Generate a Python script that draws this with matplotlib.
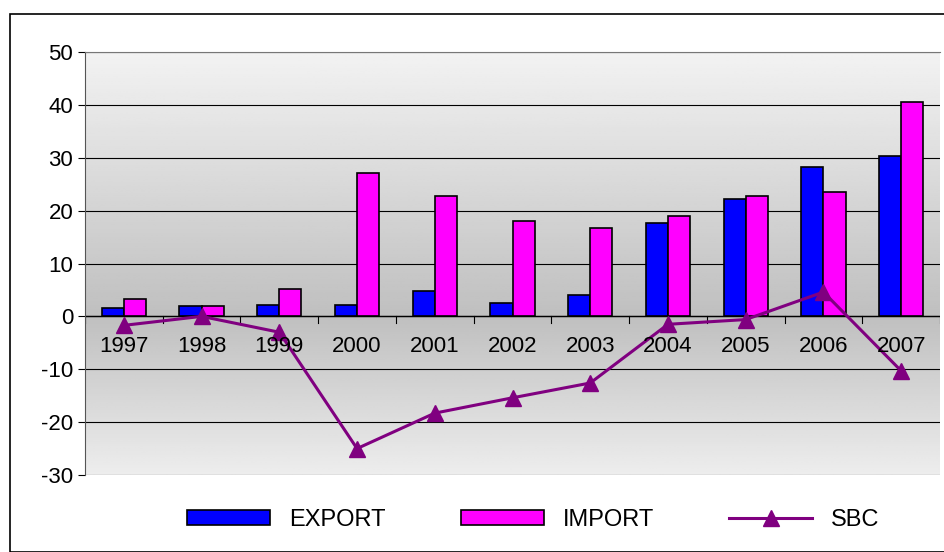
import numpy as np
import matplotlib.pyplot as plt
from matplotlib.patches import Rectangle

plt.rcParams['font.family'] = ['Liberation Sans', 'DejaVu Sans']
plt.rcParams['axes.unicode_minus'] = False

years = ['1997', '1998', '1999', '2000', '2001', '2002', '2003', '2004', '2005', '2006', '2007']
export = [1.5, 1.9, 2.2, 2.2, 4.8, 2.5, 4.1, 17.7, 22.2, 28.3, 30.3]
imports = [3.2, 1.9, 5.1, 27.1, 22.8, 18.0, 16.7, 19.0, 22.8, 23.5, 40.6]
sbc = [-1.7, 0.0, -3.0, -25.0, -18.3, -15.4, -12.6, -1.5, -0.6, 4.6, -10.3]

fig = plt.figure(figsize=(9.44, 5.52), dpi=100)
fig.patches.append(Rectangle((10 / 944, 0), 1, 1 - 14 / 552, transform=fig.transFigure,
                             fill=False, edgecolor='black', linewidth=1.2))
ax = fig.add_axes([85 / 944, 1 - 475 / 552, 855 / 944, 423 / 552])

# gradient background: light top, grey at zero, lighter at bottom
vals = np.linspace(50, -30, 200)
shade = np.where(vals >= 0, 0.95 - (50 - vals) / 50 * 0.2, 0.75 + (-vals) / 30 * 0.18)
img = np.repeat(shade[:, None], 2, axis=1)
ax.imshow(img, cmap='gray', vmin=0, vmax=1, aspect='auto',
          extent=[-0.5, len(years) - 0.5, -30, 50], zorder=0)

x = np.arange(len(years))
w = 0.285
b1 = ax.bar(x - w / 2, export, w, color='#0000ff', edgecolor='black', linewidth=1.2, label='EXPORT', zorder=3)
b2 = ax.bar(x + w / 2, imports, w, color='#ff00ff', edgecolor='black', linewidth=1.2, label='IMPORT', zorder=3)
l1, = ax.plot(x, sbc, color='#800080', linewidth=2.2, marker='^', markersize=11, label='SBC', zorder=4)

ax.set_xlim(-0.5, len(years) - 0.5)
ax.set_ylim(-30, 50)
ax.set_yticks(range(-30, 51, 10))
ax.yaxis.grid(True, color='black', linewidth=0.8, zorder=1)
ax.set_axisbelow(True)
ax.tick_params(axis='y', labelsize=16, length=5, direction='out')
ax.set_xticks([])
for s in ['right', 'bottom']:
    ax.spines[s].set_visible(False)
ax.spines['left'].set_color('#555555')
ax.spines['top'].set_color('#777777')
ax.axhline(0, color='black', linewidth=1, zorder=2)
for i in range(len(years) + 1):
    ax.plot([i - 0.5, i - 0.5], [0, -1.2], color='black', linewidth=0.8, zorder=2)
for i, yr in enumerate(years):
    ax.text(i, -3.8, yr, ha='center', va='top', fontsize=16, zorder=5)

fig.legend([b1, b2, l1], ['EXPORT', 'IMPORT', 'SBC'], loc='lower center',
           bbox_to_anchor=(0.565, 0.0), ncol=3, frameon=False,
           fontsize=17, handlelength=3.5, handleheight=0.6, columnspacing=3.2)
fig.savefig('out.png')
